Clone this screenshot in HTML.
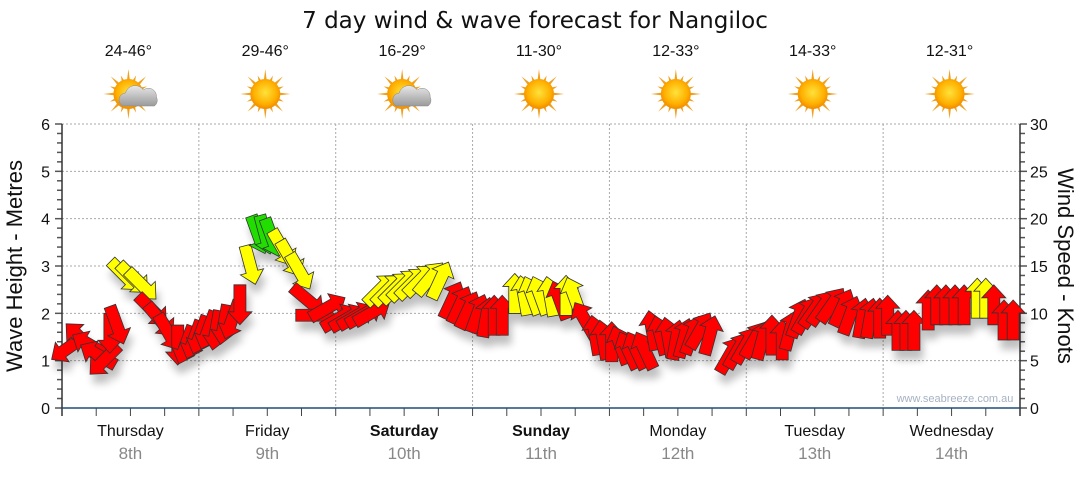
<!DOCTYPE html>
<html><head><meta charset="utf-8"><style>
body{margin:0;background:#fff;}
svg text{font-family:"Liberation Sans",sans-serif;}
</style></head><body>
<svg id="chart" width="1080" height="475" viewBox="0 0 1080 475">
<defs>
<filter id="sh" x="-50%" y="-50%" width="200%" height="200%"><feGaussianBlur in="SourceAlpha" stdDeviation="4"/><feOffset dx="3" dy="9"/><feComponentTransfer><feFuncA type="linear" slope="0.25"/></feComponentTransfer><feMerge><feMergeNode/><feMergeNode in="SourceGraphic"/></feMerge></filter>
<radialGradient id="sun" cx="50%" cy="45%" r="55%"><stop offset="0" stop-color="#ffe23a"/><stop offset="0.7" stop-color="#ffb000"/><stop offset="1" stop-color="#f08a00"/></radialGradient>
<linearGradient id="cloud" x1="0" y1="0" x2="0" y2="1"><stop offset="0" stop-color="#e8e8e8"/><stop offset="1" stop-color="#9a9a9a"/></linearGradient>
</defs>
<text x="535" y="28" font-size="23" text-anchor="middle" fill="#111" style="font-family:'DejaVu Sans',sans-serif">7 day wind &amp; wave forecast for Nangiloc</text>
<g id="grid"></g><g id="axes"></g><g id="icons"></g>
<text x="955" y="402" font-size="11" text-anchor="middle" fill="#a5b3c3">www.seabreeze.com.au</text>
<g id="arrows" filter="url(#sh)"></g>
<text transform="translate(22,266) rotate(-90)" font-size="22" text-anchor="middle" fill="#111">Wave Height - Metres</text>
<text transform="translate(1058,266) rotate(90)" font-size="22" text-anchor="middle" fill="#111">Wind Speed - Knots</text>
</svg>
<script>
const days = ["Thursday","Friday","Saturday","Sunday","Monday","Tuesday","Wednesday"];
const dates = ["8th","9th","10th","11th","12th","13th","14th"];
const boldDays = [false,false,true,true,false,false,false];
const temps = ["24-46°","29-46°","16-29°","11-30°","12-33°","14-33°","12-31°"];
const cloudy = [true,false,true,false,false,false,false];
const waveTicks = [0,1,2,3,4,5,6];
const windTicks = [0,5,10,15,20,25,30];
const hours = [1.05,3.2,4.9,6.3,7.4,8.4,9.6,11.0,12.5,14.0,15.8,17.2,18.6,20.3,21.7,23.1,
24.2,25.6,27.0,28.4,29.8,31.2,33.0,34.4,35.6,36.8,38.6,40.0,41.7,43.1,44.5,46.6,
48.7,50.2,51.6,53.0,54.4,55.8,57.2,58.6,60.0,61.4,62.8,64.5,66.3,68.4,69.8,71.2,
72.9,74.4,75.8,77.2,79.4,81.0,82.4,83.8,85.6,87.3,88.4,89.8,91.7,93.5,94.9,
96.4,97.9,99.3,100.7,102.2,103.5,104.9,106.3,107.7,109.1,110.5,111.9,113.6,
117.1,118.5,119.9,121.4,122.8,124.5,126.3,127.7,129.1,130.5,131.9,133.3,135.0,136.8,138.2,140.3,141.7,143.4,
144.8,146.6,148.0,149.4,151.9,153.4,155.0,156.6,158.2,160.5,162.0,163.4,165.2,166.8];
const knots = [6.34,7.4,6.65,5.6,5.07,7.9,8.75,14.0,13.7,13.0,10.35,9.3,8.0,6.65,6.65,7.2,
7.7,8.2,8.2,8.8,9.3,10.9,15.1,18.3,18.3,18.0,16.9,15.8,14.4,11.4,9.8,10.6,
9.5,9.5,9.7,9.9,10.1,12.5,12.5,12.7,13.0,13.2,13.5,13.7,13.5,11.4,10.9,10.35,
10.0,9.6,9.8,9.8,12.1,11.9,11.9,11.9,11.8,11.4,11.9,11.8,9.3,7.7,7.2,
7.0,6.65,6.1,6.1,6.1,8.2,7.7,7.5,7.2,7.4,7.7,8.2,7.7,
5.6,6.1,6.65,7.2,7.2,7.7,7.2,8.2,9.5,9.8,10.35,10.6,10.9,10.6,9.8,9.5,9.5,9.5,
9.8,8.2,8.2,8.2,10.35,10.9,10.9,10.9,10.9,11.6,11.6,10.9,9.3,9.3];
const dirs = [235,315,300,300,225,180,160,135,135,135,135,140,150,180,200,200,
200,200,190,190,200,180,165,160,165,160,150,150,150,130,90,60,
60,60,60,60,60,45,45,45,45,45,45,40,25,25,25,25,
20,10,0,0,0,350,340,340,350,340,0,340,330,350,350,
0,340,335,335,335,350,345,350,10,15,20,30,15,
30,30,30,30,15,0,0,15,20,30,35,35,35,25,20,10,10,0,
0,0,0,0,0,0,0,0,0,0,0,0,0,0];

const X0=62,X1=1020,Y0=408,Y1=124;
const xH = h => X0 + (X1-X0)*h/168;
const yM = m => Y0 - (Y0-Y1)*m/6;
const yK = k => Y0 - (Y0-Y1)*k/30;
const NS="http://www.w3.org/2000/svg";
function mk(tag,attrs,parent){const e=document.createElementNS(NS,tag);for(const k in attrs)e.setAttribute(k,attrs[k]);parent.appendChild(e);return e;}
const grid=document.getElementById('grid'),axes=document.getElementById('axes'),icons=document.getElementById('icons'),arrows=document.getElementById('arrows');

waveTicks.forEach(m=>{
  if(m>0){const g=mk('line',{x1:X0,x2:X1,y1:yM(m),y2:yM(m),stroke:'#aaa','stroke-dasharray':'2,2'},grid);
  
  }
  const t=mk('text',{x:50,y:yM(m)+6,'font-size':16,'text-anchor':'end',fill:'#111'},axes);t.textContent=m;
  
  
});
for(let i=0;i<=30;i++){const y=yM(i*0.2);mk('line',{x1:i%5?57:55,x2:X0,y1:y,y2:y,stroke:'#555','stroke-width':1.5},axes);}
windTicks.forEach(k=>{
  const t=mk('text',{x:1030,y:yK(k)+6,'font-size':16,fill:'#111'},axes);t.textContent=k;
  
  
});
for(let k=0;k<=30;k++){const y=yK(k);mk('line',{x1:X1,x2:k%5?1025:1027,y1:y,y2:y,stroke:'#555','stroke-width':1.5},axes);}
mk('line',{x1:X0,x2:X0,y1:Y1,y2:Y0+8,stroke:'#333','stroke-width':1.5},axes);
mk('line',{x1:X1,x2:X1,y1:Y1,y2:Y0+8,stroke:'#333','stroke-width':1.5},axes);
mk('line',{x1:X0,x2:X1,y1:Y0,y2:Y0,stroke:'#1d4f7a','stroke-width':1.5},axes);
for(let h=6;h<168;h+=6){mk('line',{x1:xH(h),x2:xH(h),y1:Y0,y2:Y0+8,stroke:'#444'},axes);}
days.forEach((d,i)=>{
  const cx=xH(i*24+12);
  if(i>0){const g=mk('line',{x1:xH(i*24),x2:xH(i*24),y1:Y1,y2:Y0,stroke:'#aaa','stroke-dasharray':'2,2'},grid);
  
  }
  const t=mk('text',{x:cx,y:436,'font-size':16,'text-anchor':'middle',fill:'#111','font-weight':boldDays[i]?'bold':'normal'},axes);t.textContent=d;
  
  
  const t2=mk('text',{x:cx,y:459,'font-size':17,'text-anchor':'middle',fill:'#888'},axes);t2.textContent=dates[i];
  
  
  const t3=mk('text',{x:cx-2,y:56,'font-size':16,'text-anchor':'middle',fill:'#111'},icons);t3.textContent=temps[i];
  
  
  const g=mk('g',{transform:`translate(${cx-2},94)`},icons);
  
  
  for(let a=0;a<16;a++){const r=a*22.5*Math.PI/180,L=a%2?20:25;
    mk('polygon',{points:`${Math.cos(r-0.12)*13},${Math.sin(r-0.12)*13} ${Math.cos(r)*L},${Math.sin(r)*L} ${Math.cos(r+0.12)*13},${Math.sin(r+0.12)*13}`,fill:'#f0a020'},g);}
  mk('circle',{cx:0,cy:0,r:15,fill:'url(#sun)'},g);
  if(cloudy[i]){mk('path',{d:'M-6,12 a7,7 0 0 1 3,-13 a10,10 0 0 1 18,-3 a8,8 0 0 1 13,7 a7,7 0 0 1 -2,9 z',fill:'url(#cloud)',stroke:'#888','stroke-width':0.5},g);}
});
hours.forEach((h,i)=>{
  const k=knots[i];
  const col=k>=17?'#22dd00':(k>=11.5?'#ffff00':'#ff0000');
  const p=mk('polygon',{points:'0,-20 12,-7 6,-7 6,20 -6,20 -6,-7 -12,-7',fill:col,stroke:'#333','stroke-width':0.8,transform:`translate(${xH(h)},${yK(k)}) rotate(${dirs[i]})`},arrows);
  
  
});
</script>
</body></html>
